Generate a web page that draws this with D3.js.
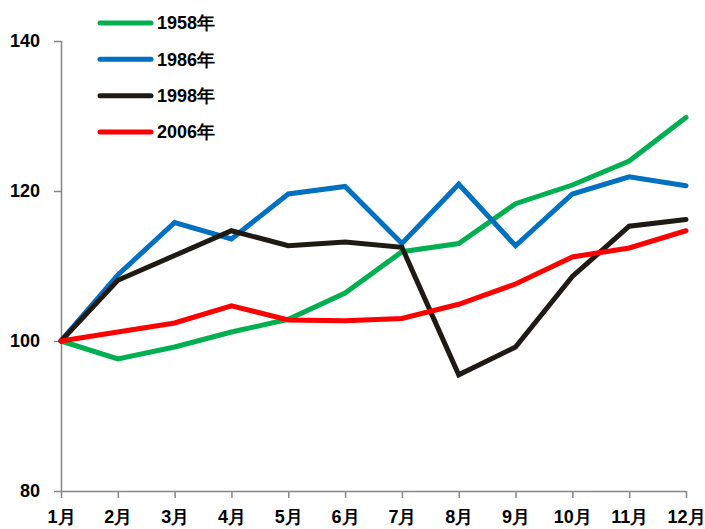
<!DOCTYPE html>
<html><head><meta charset="utf-8">
<script src="https://cdn.jsdelivr.net/npm/d3@7"></script>
<style>body{margin:0;background:#fff;}svg{display:block;}</style>
</head><body>
<svg id="chart" width="705" height="529"></svg>
<script>
const months = ["1月","2月","3月","4月","5月","6月","7月","8月","9月","10月","11月","12月"];
const yTicks = [80, 100, 120, 140];
const seriesNames = ["1958年","1986年","1998年","2006年"];
const colors = ["#00B050","#0070C0","#1F1A14","#FF0000"];
const s1958 = [100, 97.6, 99.2, 101.2, 102.9, 106.4, 111.9, 113.0, 118.3, 120.8, 124.0, 129.8];
const s1986 = [100, 108.8, 115.8, 113.6, 119.6, 120.6, 113.0, 120.9, 112.7, 119.6, 121.9, 120.7];
const s1998 = [100, 108.1, 111.4, 114.7, 112.7, 113.2, 112.5, 95.5, 99.2, 108.6, 115.3, 116.2];
const s2006 = [100, 101.2, 102.4, 104.7, 102.8, 102.7, 103.0, 104.9, 107.6, 111.2, 112.4, 114.7];
const allSeries = [s1958, s1986, s1998, s2006];

const svg = d3.select("#chart");
const x = d3.scalePoint().domain(months).range([61, 686]);
const y = d3.scaleLinear().domain([80, 140]).range([491, 41]);
const font = "'Liberation Sans', Arial, sans-serif";

const yAxis = svg.append("g").attr("transform","translate(61,0)")
  .call(d3.axisLeft(y).tickValues(yTicks).tickSize(7).tickPadding(14));
const xAxis = svg.append("g").attr("transform","translate(0,491)")
  .call(d3.axisBottom(x).tickSize(7).tickPadding(12));
[yAxis, xAxis].forEach(a => {
  a.selectAll("path,line").attr("stroke","#868686").attr("stroke-width",1.5);
  a.selectAll("text").attr("font-family",font).attr("font-weight","bold")
    .attr("font-size","18px").attr("fill","#000");
});
xAxis.select(".domain").attr("d","M61,0.5H686");
yAxis.select(".domain").attr("d","M0.5,41V491");

const line = d3.line().x((d,i)=>x(months[i])).y(d=>y(d));
allSeries.forEach((s,k)=>{
  svg.append("path").datum(s).attr("d",line).attr("fill","none")
    .attr("stroke",colors[k]).attr("stroke-width",5).attr("stroke-linejoin","miter").attr("stroke-linecap","round");
});

const legY = d3.scalePoint().domain(seriesNames).range([23, 132]);
const leg = svg.append("g");
seriesNames.forEach((n,k)=>{
  leg.append("line").attr("x1",100).attr("x2",151).attr("y1",legY(n)).attr("y2",legY(n))
    .attr("stroke",colors[k]).attr("stroke-width",5).attr("stroke-linecap","round");
  leg.append("text").attr("x",157).attr("y",legY(n)).attr("dy","0.36em")
    .attr("font-family",font).attr("font-weight","bold").attr("font-size","18px").text(n);
});
</script>
</body></html>
